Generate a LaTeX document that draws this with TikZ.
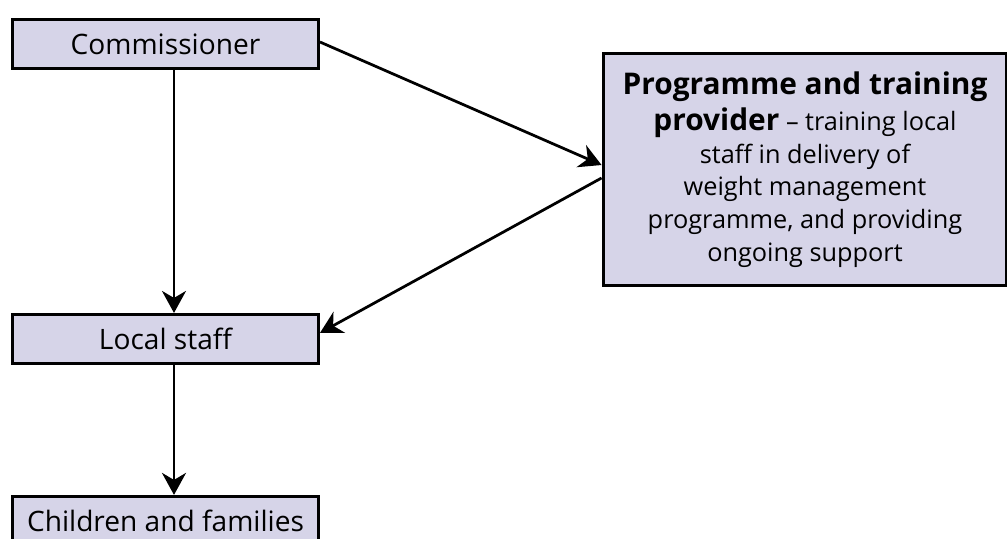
\documentclass[tikz,border=0pt]{standalone}
\usepackage{fontspec}
\setmainfont{Open Sans}
\usepackage{xcolor}
\usepackage{tikz}
\usetikzlibrary{
  arrows.meta,
  positioning
}
\definecolor{boxlilac}{RGB}{214,212,232}

\begin{document}
\begin{tikzpicture}[
  x=0.02cm, y=-0.02cm,
  block/.style={draw=black, fill=boxlilac, line width=0.06cm,
                minimum width=6.12cm, minimum height=0.98cm,
                inner sep=0pt, align=center,
                font=\fontsize{16}{19}\selectfont},
  wide/.style={block, minimum width=8.08cm, minimum height=4.64cm,
               font=\fontsize{14.4}{18.6}\selectfont},
  arr/.style={-{Stealth[length=0.44cm, width=0.48cm, inset=0.14cm]},
              line width=0.055cm},
  node distance=0.5cm and 0.4cm
]
\useasboundingbox (0,0) rectangle (1007,538);
\clip (0,0) rectangle (1007,538);

% ── Left column ──
\node[block] at (165.5,44) (comm) {Commissioner};
\node[block, below=4.86cm of comm] (local) {Local staff};
\node[block, below=2.6cm of local] (kids) {Children and families};

% ── Right: provider ──
\node[wide] at (805,169.5) (prov)
  {{\fontsize{17}{19}\selectfont\bfseries Programme and training}\\[2pt]
   {\fontsize{17}{19}\selectfont\bfseries provider} -- training local\\
   staff in delivery of\\
   weight management\\
   programme, and providing\\
   ongoing support};

% ── Connectors ──
\draw[arr] ([yshift=0.04cm]comm.east) -- ([yshift=0.09cm]prov.west);
\draw[arr] ([yshift=-0.17cm]prov.west) -- ([yshift=0.12cm]local.east);
\draw[arr] ([xshift=0.17cm]comm.south) -- ([xshift=0.17cm]local.north);
\draw[arr] ([xshift=0.17cm]local.south) -- ([xshift=0.17cm]kids.north);

\end{tikzpicture}
\end{document}
